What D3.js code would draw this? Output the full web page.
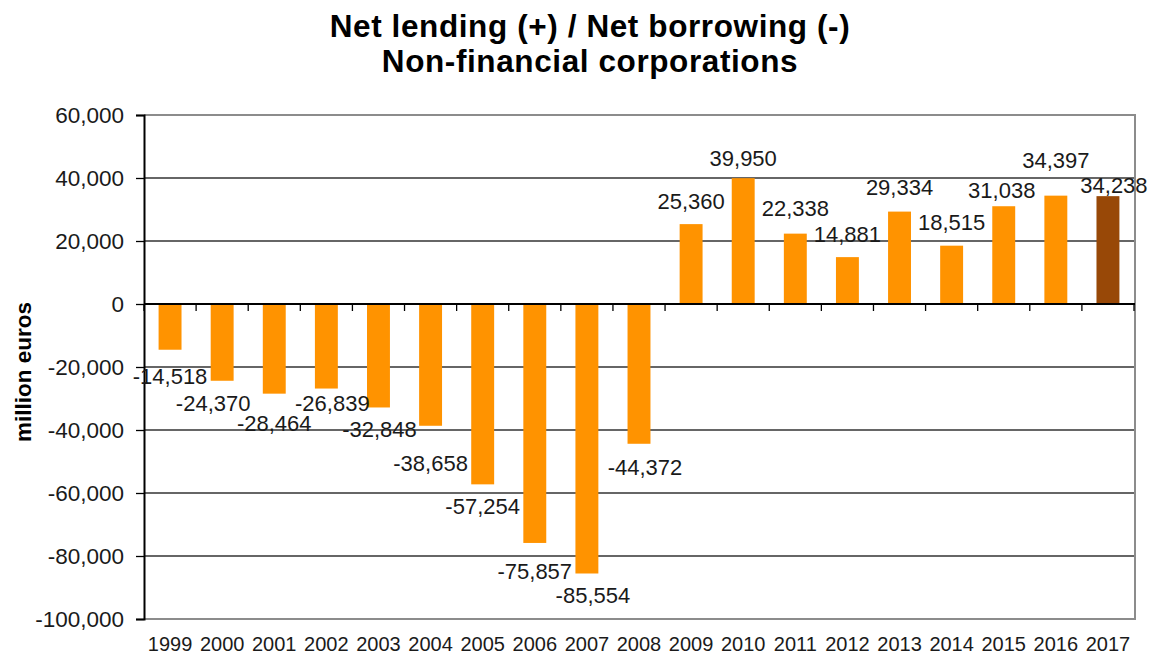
<!DOCTYPE html>
<html>
<head>
<meta charset="utf-8">
<script src="https://cdn.jsdelivr.net/npm/d3@7"></script>
<style>
  html, body { margin: 0; padding: 0; background: #fff; }
  svg { display: block; font-family: "Liberation Sans", Arial, sans-serif; }
</style>
</head>
<body>
<svg id="chart" width="1157" height="655"></svg>
<script>
// Net lending (+) / net borrowing (-) of non-financial corporations, million euros
const years = ["1999","2000","2001","2002","2003","2004","2005","2006","2007","2008",
               "2009","2010","2011","2012","2013","2014","2015","2016","2017"];
const values = [-14518, -24370, -28464, -26839, -32848, -38658, -57254, -75857, -85554, -44372,
                25360, 39950, 22338, 14881, 29334, 18515, 31038, 34397, 34238];
const yTicks = [60000, 40000, 20000, 0, -20000, -40000, -60000, -80000, -100000];
const highlightYear = "2017";

// Hand-placed label nudges [dx, dy] in px, relative to the outside-end position
const labelNudge = [[0,11],[-9,7],[0,14],[6,0],[1,7],[0,22],[0,7],[0,13],[6,7],[6,8],
                    [0,-8],[0,-5],[0,-11],[0,-8],[0,-10],[0,-9],[-2,-1],[0,-21],[6,4]];

const svg = d3.select("#chart");
const plot = { left: 144, right: 1135, top: 115, bottom: 619 };

const x = d3.scaleBand().domain(years)
  .range([plot.left, plot.right - 1])
  .paddingInner(0.56).paddingOuter(0.28);
const y = d3.scaleLinear().domain([-100000, 60000]).range([plot.bottom, plot.top]);

// Thousands separator with a plain hyphen for negatives
const fmt = v => d3.format(",")(v).replace("\u2212", "-");

// Title
const title = svg.append("text")
  .attr("x", 590).attr("text-anchor", "middle")
  .attr("font-weight", "bold").attr("font-size", 31.5)
  .attr("letter-spacing", 0.6).attr("fill", "#000");
title.append("tspan").attr("x", 590).attr("y", 37).text("Net lending (+) / Net borrowing (-)");
title.append("tspan").attr("x", 590).attr("y", 72).text("Non-financial corporations");

// Horizontal gridlines
svg.append("g")
  .selectAll("line")
  .data(yTicks.filter(d => d !== 0 && d !== 60000 && d !== -100000))
  .join("line")
  .attr("x1", plot.left).attr("x2", plot.right)
  .attr("y1", d => y(d)).attr("y2", d => y(d))
  .attr("stroke", "#333").attr("stroke-width", 1.3);

// Plot-area frame (top, right, bottom)
svg.append("path")
  .attr("d", `M${plot.left},${plot.top}H${plot.right}V${plot.bottom}H${plot.left}`)
  .attr("fill", "none").attr("stroke", "#8c8c8c").attr("stroke-width", 2);

// Bars
svg.append("g")
  .selectAll("rect")
  .data(years)
  .join("rect")
  .attr("x", d => x(d))
  .attr("width", x.bandwidth())
  .attr("y", (d, i) => y(Math.max(0, values[i])))
  .attr("height", (d, i) => Math.abs(y(values[i]) - y(0)))
  .attr("fill", d => d === highlightYear ? "#984807" : "#FF9300");

// Y axis
const yAxis = d3.axisLeft(y).tickValues(yTicks).tickFormat(fmt).tickSize(8).tickPadding(12);
const gy = svg.append("g").attr("transform", `translate(${plot.left},0)`).call(yAxis);
gy.select(".domain").attr("stroke", "#000").attr("stroke-width", 2);
gy.selectAll(".tick line").attr("stroke", "#000").attr("stroke-width", 1.3);
gy.selectAll(".tick text")
  .attr("font-family", "Liberation Sans, Arial, sans-serif")
  .attr("font-size", 22.5).attr("fill", "#1a1a1a");

// Category axis along zero, ticks between categories
const step = x.step();
const boundaries = d3.range(years.length + 1).map(i => plot.left + i * step);
svg.append("line")
  .attr("x1", plot.left).attr("x2", plot.right)
  .attr("y1", y(0)).attr("y2", y(0))
  .attr("stroke", "#000").attr("stroke-width", 2);
svg.append("g").selectAll("line")
  .data(boundaries)
  .join("line")
  .attr("x1", d => d).attr("x2", d => d)
  .attr("y1", y(0)).attr("y2", y(0) + 7)
  .attr("stroke", "#000").attr("stroke-width", 1.3);

// Year labels below the plot
svg.append("g").selectAll("text")
  .data(years)
  .join("text")
  .attr("x", d => x(d) + x.bandwidth() / 2)
  .attr("y", 651)
  .attr("text-anchor", "middle")
  .attr("font-size", 20).attr("fill", "#1a1a1a")
  .text(d => d);

// Y axis title
svg.append("text")
  .attr("transform", "translate(31,372) rotate(-90)")
  .attr("text-anchor", "middle")
  .attr("font-weight", "bold").attr("font-size", 22.5).attr("fill", "#000")
  .text("million euros");

// Value labels
svg.append("g").selectAll("text")
  .data(years)
  .join("text")
  .attr("x", (d, i) => x(d) + x.bandwidth() / 2 + labelNudge[i][0])
  .attr("y", (d, i) => {
    const v = values[i];
    const base = v >= 0 ? y(v) - 15 : y(v) + 15;
    return base + labelNudge[i][1];
  })
  .attr("dy", "0.36em")
  .attr("text-anchor", "middle")
  .attr("font-size", 22).attr("fill", "#1a1a1a")
  .text((d, i) => fmt(values[i]));
</script>
</body>
</html>
